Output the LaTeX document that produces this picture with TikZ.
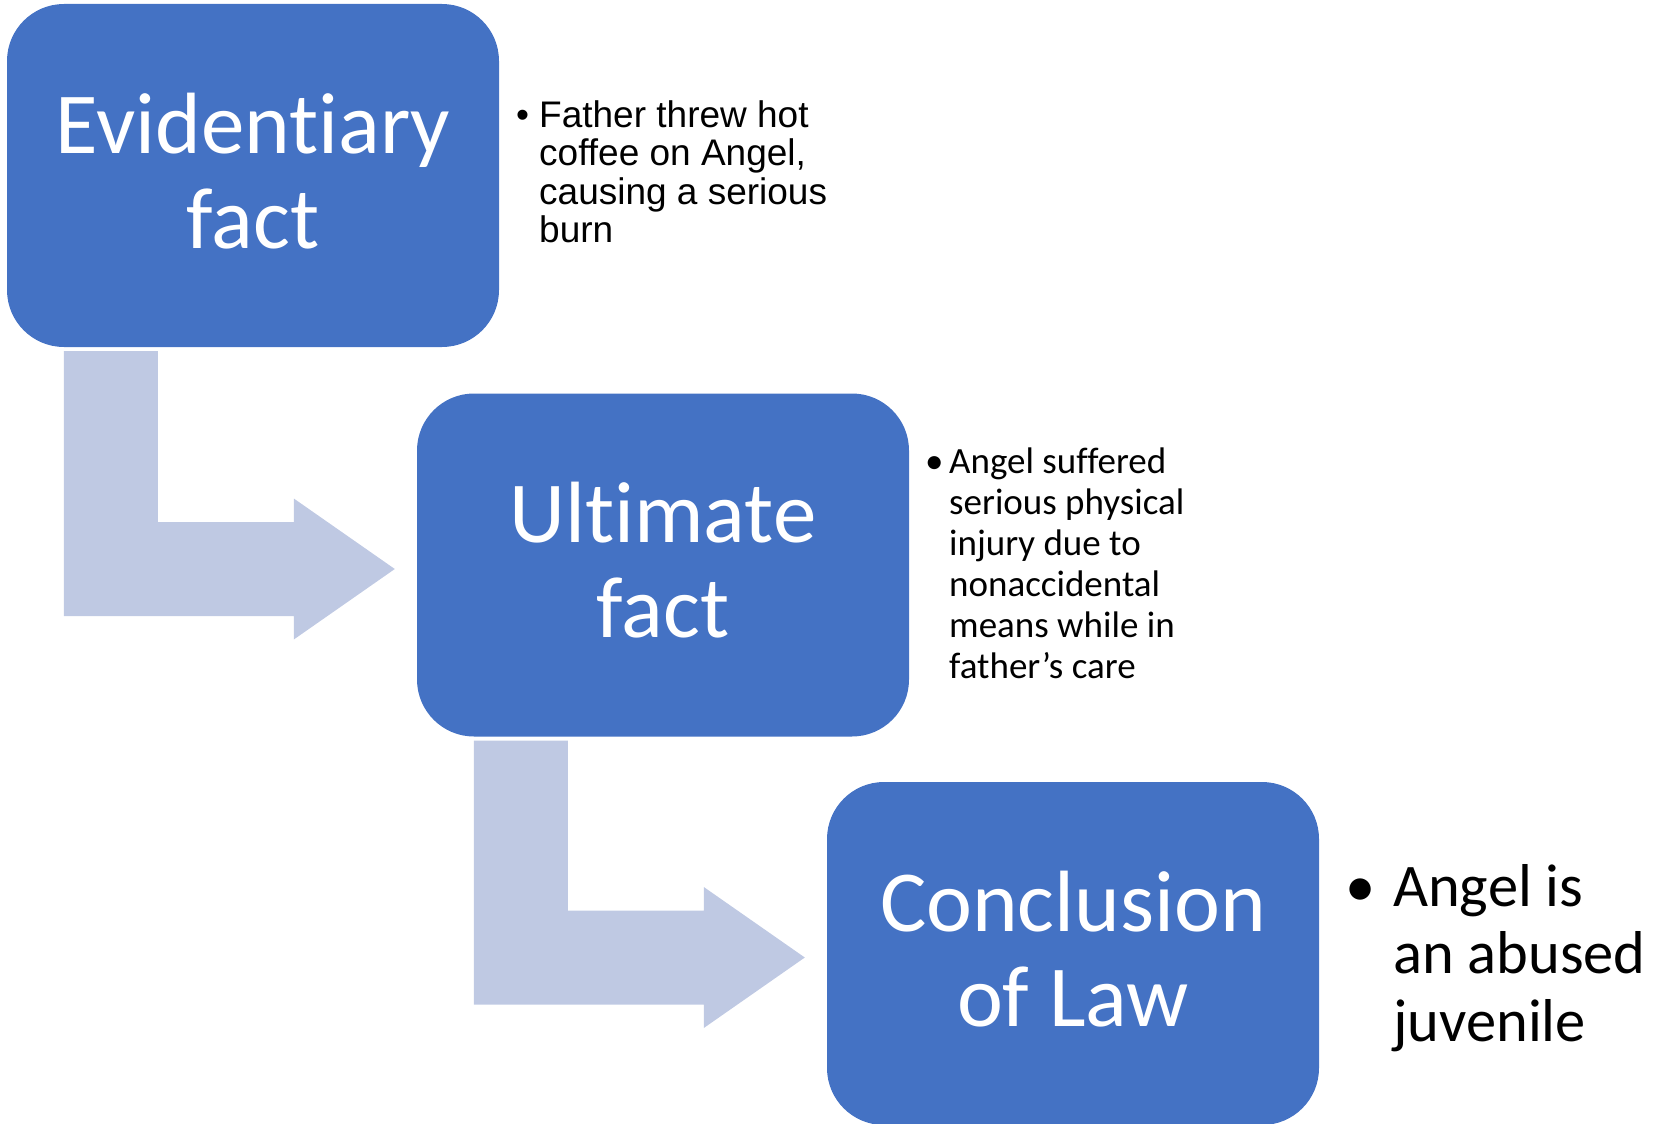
\documentclass[tikz,border=0pt]{standalone}
\usepackage{fontspec}
\setmainfont{Carlito}[Ligatures={NoCommon}]
\newfontfamily\arialfont{Liberation Sans}
\usetikzlibrary{calc}

\definecolor{stageblue}{HTML}{4472C4}
\definecolor{bendfill}{HTML}{BFC9E3}

\tikzset{
  stagebox/.style={fill=stageblue, draw=none, rounded corners=57pt,
    minimum width=492pt, minimum height=343pt, inner sep=0pt,
    text=white, font=\fontsize{87}{95}\selectfont,
    text height=72.5pt, text depth=117.5pt},
  bentarrow/.style={fill=bendfill, draw=none},
  notetext/.style={anchor=base west, inner sep=0pt, text=black},
}

\begin{document}
\begin{tikzpicture}[x=1pt, y=-1pt]
  \useasboundingbox (0,0) rectangle (1657,1124);
  \clip (0,0) rectangle (1657,1124);

  % the three stages
  \node[stagebox] (ev)  at (253,175.5)  {\begin{tabular}[t]{@{}c@{}}Evidentiary\\fact\end{tabular}};
  \node[stagebox] (ult) at (663,565)    {\begin{tabular}[t]{@{}c@{}}Ultimate\\fact\end{tabular}};
  \node[stagebox] (con) at (1073,953.5) {\begin{tabular}[t]{@{}c@{}}Conclusion\\of Law\end{tabular}};

  % bent arrows leading from one stage to the next
  \foreach \from/\to in {ev/ult, ult/con} {
    \fill[bentarrow]
      let \p1 = ($(\from.south west)+(57,4)$),
          \p2 = ($(\to.west)+(-22,4)$) in
      (\x1,\y1) -- (\x1+94pt,\y1) -- (\x1+94pt,\y2+47pt)
      -- (\x2-101pt,\y2+47pt) -- (\x2-101pt,\y2+70.5pt)
      -- (\x2,\y2)
      -- (\x2-101pt,\y2-70.5pt) -- (\x2-101pt,\y2-47pt)
      -- (\x1,\y2-47pt) -- cycle;
  }

  % bullet notes beside each stage
  \node[notetext, font=\arialfont\fontsize{37}{38.5}\selectfont] (evnote) at (516,127)
    {\begin{tabular}[t]{@{}l@{}l@{}}
      \makebox[23pt][l]{•} & Father threw hot\\
      & coffee on Angel,\\
      & causing a serious\\
      & burn
    \end{tabular}};

  \node[notetext, font=\fontsize{37}{41}\selectfont] (ultnote) at (925,473)
    {\begin{tabular}[t]{@{}l@{}l@{}}
      \makebox[24pt][l]{•} & Angel suffered\\
      & serious physical\\
      & injury due to\\
      & nonaccidental\\
      & means while in\\
      & father’s care
    \end{tabular}};

  \node[notetext, font=\fontsize{60.5}{67.5}\selectfont] (connote) at (1345,906)
    {\begin{tabular}[t]{@{}l@{}l@{}}
      \makebox[48pt][l]{•} & Angel is\\
      & an abused\\
      & juvenile
    \end{tabular}};
\end{tikzpicture}
\end{document}
